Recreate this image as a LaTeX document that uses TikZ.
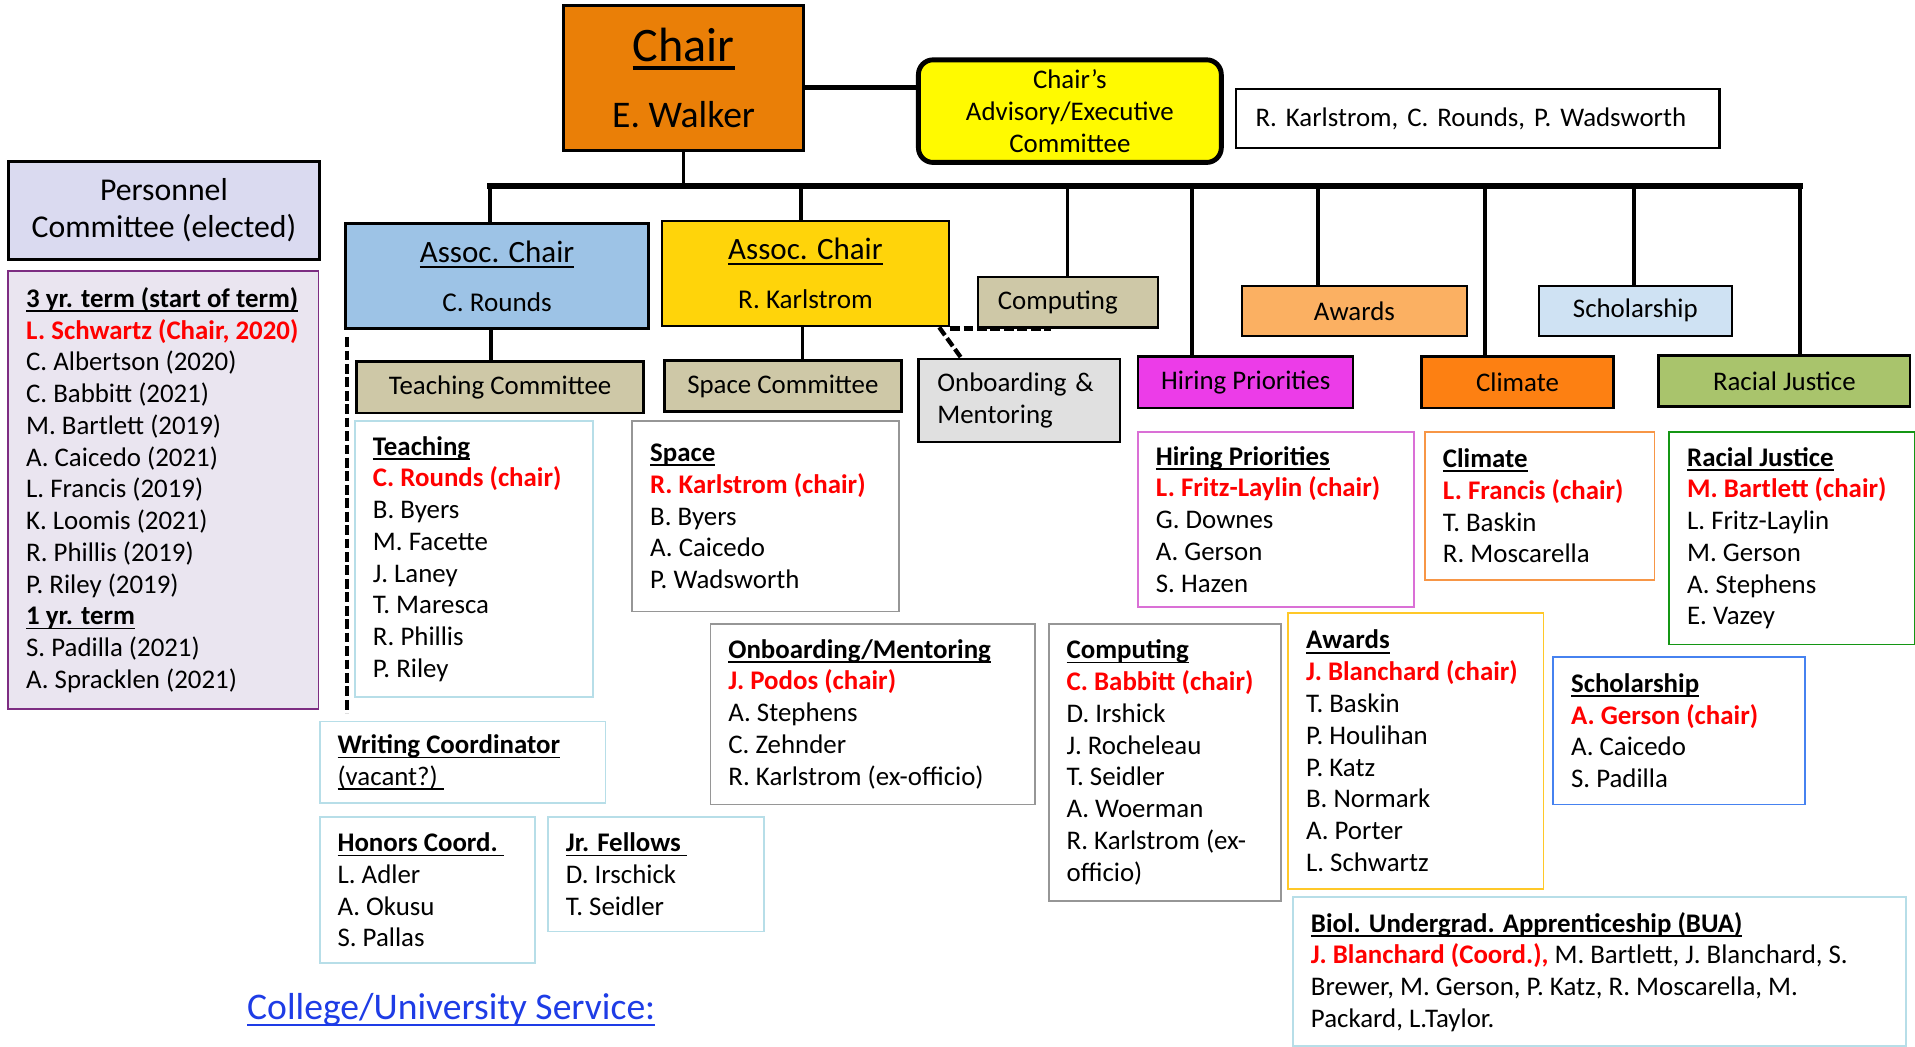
\documentclass[tikz,border=0pt]{standalone}
\usepackage{fontspec}
\setmainfont{Carlito}
\usepackage{xcolor}
\usepackage{tikz}
\definecolor{chairor}{RGB}{234,127,7}
\definecolor{advyel}{RGB}{255,250,0}
\definecolor{persbg}{RGB}{218,218,240}
\definecolor{perslist}{RGB}{234,229,240}
\definecolor{persline}{RGB}{125,45,130}
\definecolor{acblue}{RGB}{157,195,230}
\definecolor{acgold}{RGB}{255,212,10}
\definecolor{tanbg}{RGB}{206,200,167}
\definecolor{onbgray}{RGB}{224,224,224}
\definecolor{awardor}{RGB}{251,176,98}
\definecolor{scholbl}{RGB}{207,226,243}
\definecolor{hiremag}{RGB}{236,60,232}
\definecolor{climor}{RGB}{253,128,18}
\definecolor{racegr}{RGB}{169,196,108}
\definecolor{lineblue}{RGB}{183,222,232}
\definecolor{linegray}{RGB}{150,150,150}
\definecolor{lineorch}{RGB}{218,112,214}
\definecolor{lineor}{RGB}{247,150,70}
\definecolor{linegr}{RGB}{20,150,20}
\definecolor{linegold}{RGB}{255,200,40}
\definecolor{lineblu}{RGB}{70,130,240}
\definecolor{chred}{RGB}{255,0,0}
\definecolor{linkbl}{RGB}{30,60,230}
\newsavebox{\ulbox}
\newcommand{\undl}[1]{\sbox{\ulbox}{#1}\rlap{\rule[-0.17em]{\wd\ulbox}{0.065em}}\usebox{\ulbox}}
\newcommand{\hd}[1]{\textbf{\undl{#1}}}
\newcommand{\chr}[1]{\textcolor{chred}{\textbf{#1}}}
\tikzstyle{every node}=[font=\fontsize{11}{13}\selectfont, inner sep=0pt]
\tikzstyle{cbox}=[draw, line width=1pt, anchor=north west, font=\fontsize{11}{13}\selectfont]
\tikzstyle{lbox}=[draw, line width=0.75pt, anchor=north west]
\tikzstyle{ltext}=[anchor=west, align=left]
\tikzstyle{bus}=[line width=2.5pt, line cap=rect]
\tikzstyle{vline}=[line width=1.5pt]
\tikzstyle{dashcon}=[line width=1.75pt, dash pattern=on 4pt off 1.5pt]

\begin{document}
\begin{tikzpicture}[x=0.5pt, y=-0.5pt]
\useasboundingbox (0,0) rectangle (1568,856.5);
% top
\node[draw, line width=1.25pt, fill=chairor, anchor=north west, minimum width=98.5pt, minimum height=59.5pt, align=center, font=\fontsize{15.4}{27}\selectfont] (chair) at (460,3) {{\fontsize{19.7}{27}\selectfont\undl{Chair}}\\E. Walker};
\node[draw, line width=2pt, rounded corners=6pt, fill=advyel, anchor=north west, minimum width=124pt, minimum height=42pt, align=center, font=\fontsize{11}{13}\selectfont] (adv) at (750,47) {Chair’s\\Advisory/Executive\\Committee};
\node[cbox, minimum width=198pt, minimum height=24pt, text width=182pt, align=left] (advm) at (1011,72) {R. Karlstrom, C. Rounds, P. Wadsworth};
\draw[line width=2pt] ([yshift=-4pt]chair.east) -- ([yshift=-4pt]chair.east -| adv.west);

% personnel
\node[draw, line width=1.25pt, fill=persbg, anchor=north west, minimum width=127pt, minimum height=40pt, align=center, font=\fontsize{13}{15}\selectfont] (pers) at (6,131) {Personnel\\Committee (elected)};
\node[lbox, draw=persline, fill=perslist, minimum width=127pt, minimum height=179.5pt] (persl) at (6,221) {};
\node[ltext] (perst) at ([xshift=7.5pt]persl.west) {\hd{3 yr. term (start of term)}\\ \chr{L. Schwartz (Chair, 2020)}\\ C. Albertson (2020)\\ C. Babbitt (2021)\\ M. Bartlett (2019)\\ A. Caicedo (2021)\\ L. Francis (2019)\\ K. Loomis (2021)\\ R. Phillis (2019)\\ P. Riley (2019)\\ \hd{1 yr. term}\\ S. Padilla (2021)\\ A. Spracklen (2021)};

% second row
\node[cbox, fill=acblue, minimum width=124pt, minimum height=43pt, align=center, font=\fontsize{11.1}{20}\selectfont] (ac1) at (282,182) {{\fontsize{12.7}{20}\selectfont\undl{Assoc. Chair}}\\C. Rounds};
\node[cbox, fill=acgold, minimum width=117.5pt, minimum height=43pt, align=center, font=\fontsize{11.1}{20}\selectfont] (ac2) at (541,180) {{\fontsize{12.7}{20}\selectfont\undl{Assoc. Chair}}\\R. Karlstrom};
\node[cbox, fill=tanbg, minimum width=117.5pt, minimum height=21pt] (teachc) at (291,295) {Teaching Committee};
\node[cbox, fill=tanbg, minimum width=97pt, minimum height=21pt] (spacec) at (543,294) {Space Committee};
\node[cbox, fill=onbgray, minimum width=82.5pt, minimum height=34pt, text width=67pt, align=left] (onb) at (751,293) {Onboarding \&\\Mentoring};
\node[cbox, fill=tanbg, minimum width=73.5pt, minimum height=20.5pt, text width=57.5pt, align=left] (comp) at (800,226) {Computing};
\node[cbox, fill=awardor, minimum width=92pt, minimum height=20.5pt] (award) at (1016,233) {Awards};
\node[cbox, fill=scholbl, minimum width=79pt, minimum height=20.5pt] (schol) at (1259,233) {Scholarship};
\node[cbox, fill=hiremag, minimum width=88pt, minimum height=21pt] (hire) at (931,291) {Hiring Priorities};
\node[cbox, fill=climor, minimum width=78.5pt, minimum height=21pt] (clim) at (1163,291) {Climate};
\node[cbox, fill=racegr, minimum width=103pt, minimum height=21pt] (race) at (1357,290) {Racial Justice};

% bus
\draw[vline] (chair.south) -- ++(0,152-122);
\foreach \n/\x in {ac1/401,ac2/656,comp/874,hire/976,award/1079,clim/1216,schol/1338,race/1474}{
  \coordinate (b\n) at (\x,152);
  \draw[vline] (b\n) -- (b\n |- \n.north);
}
\draw[bus] (bac1) -- (brace);
\draw[vline] ([xshift=-2.5pt]ac1.south) -- ([xshift=-2.5pt]ac1.south |- teachc.north);
\draw[vline] ([xshift=-1.25pt]ac2.south) -- ([xshift=-1.25pt]ac2.south |- spacec.north);

% lists
\node[lbox, draw=lineblue, minimum width=97.5pt, minimum height=113pt] (teachl) at (290,344) {};
\node[ltext] (teacht) at ([xshift=7.5pt]teachl.west) {\hd{Teaching}\\ \chr{C. Rounds (chair)}\\ B. Byers\\ M. Facette\\ J. Laney\\ T. Maresca\\ R. Phillis\\ P. Riley};
\node[lbox, draw=linegray, minimum width=109pt, minimum height=78pt] (spacel) at (517,344) {};
\node[ltext] (spacet) at ([xshift=7.5pt]spacel.west) {\hd{Space}\\ \chr{R. Karlstrom (chair)}\\ B. Byers\\ A. Caicedo\\ P. Wadsworth};
\node[lbox, draw=lineblue, minimum width=117pt, minimum height=33.5pt] (writel) at (261,590) {};
\node[ltext] (writet) at ([xshift=7.5pt]writel.west) {\hd{Writing Coordinator}\\ \undl{(vacant?)\ }};
\node[lbox, draw=lineblue, minimum width=88pt, minimum height=60pt] (honorl) at (261,668) {};
\node[ltext] (honort) at ([xshift=7.5pt]honorl.west) {\hd{Honors Coord.\ }\\ L. Adler\\ A. Okusu\\ S. Pallas};
\node[lbox, draw=lineblue, minimum width=88.5pt, minimum height=47pt] (jrl) at (448,668) {};
\node[ltext] (jrt) at ([xshift=7.5pt]jrl.west) {\hd{Jr. Fellows\ }\\ D. Irschick\\ T. Seidler};
\node[lbox, draw=linegray, minimum width=133pt, minimum height=74pt] (onbl) at (581,510) {};
\node[ltext] (onbt) at ([xshift=7.5pt]onbl.west) {\hd{Onboarding/Mentoring}\\ \chr{J. Podos (chair)}\\ A. Stephens\\ C. Zehnder\\ R. Karlstrom (ex-officio)};
\node[lbox, draw=linegray, minimum width=95pt, minimum height=113.5pt] (compl) at (858,510) {};
\node[ltext] (compt) at ([xshift=7.5pt]compl.west) {\hd{Computing}\\ \chr{C. Babbitt (chair)}\\ D. Irshick\\ J. Rocheleau\\ T. Seidler\\ A. Woerman\\ R. Karlstrom (ex-\\officio)};
\node[lbox, draw=lineorch, minimum width=113pt, minimum height=71.5pt] (hirel) at (931,353) {};
\node[ltext] (hiret) at ([xshift=7.5pt]hirel.west) {\hd{Hiring Priorities}\\ \chr{L. Fritz-Laylin (chair)}\\ G. Downes\\ A. Gerson\\ S. Hazen};
\node[lbox, draw=lineor, minimum width=94pt, minimum height=60.5pt] (climl) at (1166,353) {};
\node[ltext] (climt) at ([xshift=7.5pt]climl.west) {\hd{Climate}\\ \chr{L. Francis (chair)}\\ T. Baskin\\ R. Moscarella};
\node[lbox, draw=linegr, minimum width=100.5pt, minimum height=87pt] (racel) at (1366,353) {};
\node[ltext] (racet) at ([xshift=7.5pt]racel.west) {\hd{Racial Justice}\\ \chr{M. Bartlett (chair)}\\ L. Fritz-Laylin\\ M. Gerson\\ A. Stephens\\ E. Vazey};
\node[lbox, draw=linegold, minimum width=104.5pt, minimum height=113pt] (awardl) at (1054,501) {};
\node[ltext] (awardt) at ([xshift=7.5pt]awardl.west) {\hd{Awards}\\ \chr{J. Blanchard (chair)}\\ T. Baskin\\ P. Houlihan\\ P. Katz\\ B. Normark\\ A. Porter\\ L. Schwartz};
\node[lbox, draw=lineblu, minimum width=103pt, minimum height=60.5pt] (scholl) at (1271,537) {};
\node[ltext] (scholt) at ([xshift=7.5pt]scholl.west) {\hd{Scholarship}\\ \chr{A. Gerson (chair)}\\ A. Caicedo\\ S. Padilla};
\node[lbox, draw=lineblue, minimum width=251pt, minimum height=61pt] (bual) at (1058,734) {};
\node[ltext] (buat) at ([xshift=7.5pt]bual.west) {\hd{Biol. Undergrad. Apprenticeship (BUA)}\\ \chr{J. Blanchard (Coord.),} M. Bartlett, J. Blanchard, S.\\ Brewer, M. Gerson, P. Katz, R. Moscarella, M.\\ Packard, L.Taylor.};

% dashed links
\draw[dashcon] ([xshift=1pt,yshift=-3pt]ac1.south west) -- ([xshift=1pt,yshift=3pt]ac1.south west |- writel.north);
\draw[dashcon] ([yshift=-0.5pt]ac2.south east) -- ([xshift=-7pt]comp.south);
\draw[dashcon] ([xshift=-4.5pt]ac2.south east) -- ([xshift=18pt]onb.north west);

\node[anchor=west, text=linkbl, font=\fontsize{15.4}{18}\selectfont] (cus) at (202,827) {\undl{College/University Service:}};
\end{tikzpicture}
\end{document}
